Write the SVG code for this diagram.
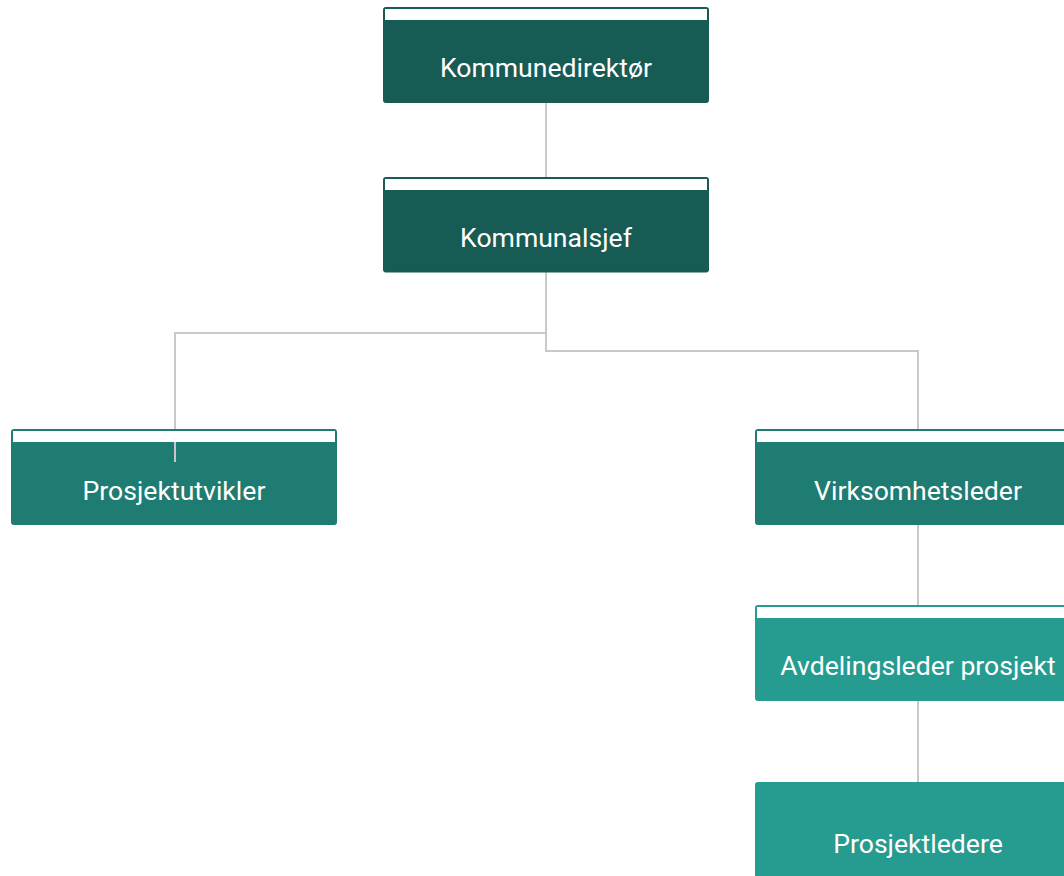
<svg xmlns="http://www.w3.org/2000/svg" width="1064" height="876" viewBox="0 0 1064 876">
<style>
.lbl{font-family:Roboto,"Liberation Sans",sans-serif;font-size:26.6px;fill:#ffffff;text-anchor:middle}
.strip{fill:#ffffff}
.conn{fill:none;stroke:#c8c8c8;stroke-width:2}
.c1{fill:#165b54;stroke:#165b54}
.c2{fill:#1f7c72;stroke:#1f7c72}
.c3{fill:#269b90;stroke:#269b90}
</style>
<rect width="1064" height="876" fill="#ffffff"/>
<g id="connectors">
<path class="conn" d="M546 103V177"/>
<path class="conn" d="M546 272V333H175V462"/>
<path class="conn" d="M546 333V351H918V429"/>
<path class="conn" d="M918 525V605"/>
<path class="conn" d="M918 701V782"/>
</g>
<g id="n1">
<rect class="c1" x="383.5" y="7.5" width="325" height="95" rx="2"/>
<rect class="strip" x="385" y="9" width="322" height="11"/>
<text class="lbl" x="546" y="77">Kommunedirektør</text>
</g>
<g id="n2">
<rect class="c1" x="383.5" y="177.5" width="325" height="94.5" rx="2"/>
<rect class="strip" x="385" y="179" width="322" height="11"/>
<text class="lbl" x="546" y="247">Kommunalsjef</text>
</g>
<g id="n3">
<rect class="c2" x="11.5" y="429.5" width="325" height="95" rx="2"/>
<rect class="strip" x="13" y="431" width="322" height="11"/>
<path class="conn" d="M175 442V462"/>
<text class="lbl" x="174" y="500">Prosjektutvikler</text>
</g>
<g id="n4">
<rect class="c2" x="755.5" y="429.5" width="325" height="95" rx="2"/>
<rect class="strip" x="757" y="431" width="322" height="11"/>
<text class="lbl" x="918" y="500">Virksomhetsleder</text>
</g>
<g id="n5">
<rect class="c3" x="755.5" y="605.5" width="325" height="95" rx="2"/>
<rect class="strip" x="757" y="607" width="322" height="11"/>
<text class="lbl" x="918" y="675">Avdelingsleder prosjekt</text>
</g>
<g id="n6">
<rect class="c3" x="755.5" y="782.5" width="325" height="120" rx="2"/>
<text class="lbl" x="918" y="853">Prosjektledere</text>
</g>
</svg>
